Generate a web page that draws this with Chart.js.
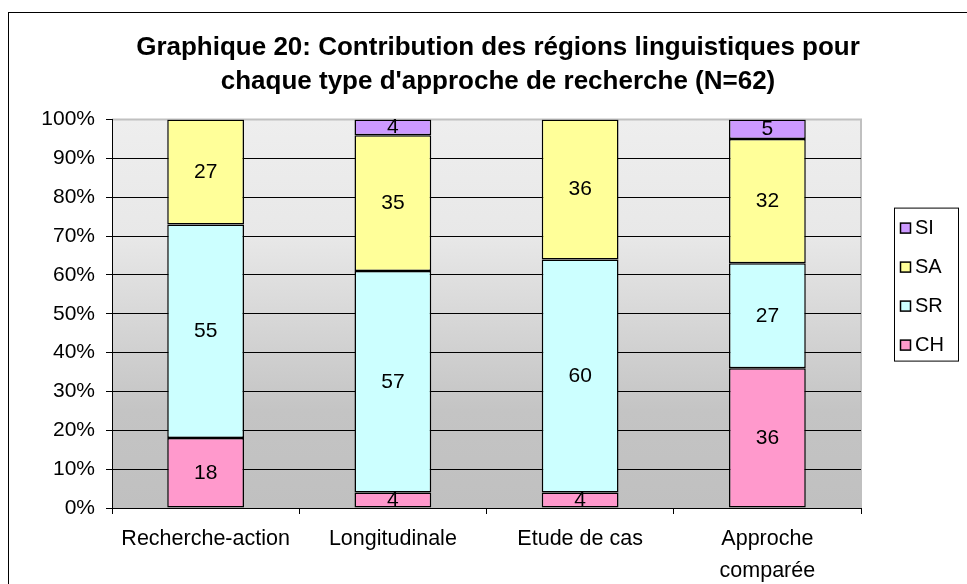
<!DOCTYPE html>
<html>
<head>
<meta charset="utf-8">
<script src="https://cdn.jsdelivr.net/npm/chart.js@4.4.1/dist/chart.umd.min.js"></script>
<style>
  body { margin: 0; background: #fff; }
  #wrap { width: 967px; height: 584px; }
</style>
</head>
<body>
<div id="wrap"><canvas id="chart20" width="967" height="584"></canvas></div>
<script>
const categories = ["Recherche-action", "Longitudinale", "Etude de cas", ["Approche", "comparée"]];
const seriesNames = ["CH", "SR", "SA", "SI"];
const CH = [18, 4, 4, 36];
const SR = [55, 57, 60, 27];
const SA = [27, 35, 36, 32];
const SI = [0, 4, 0, 5];
const seriesColors = ["#ff99cc", "#ccffff", "#ffff99", "#cc99ff"];
const yTicks = [0, 10, 20, 30, 40, 50, 60, 70, 80, 90, 100];

const FONT = "'Liberation Sans', Arial, sans-serif";

// cadre + fond dégradé de la zone de traçage
const backgroundPlugin = {
  id: "plotBackground",
  beforeDraw(chart) {
    const ctx = chart.ctx;
    const a = chart.chartArea;
    ctx.save();
    ctx.strokeStyle = "#000";
    ctx.lineWidth = 1;
    ctx.strokeRect(8.5, 12.5, 2000, 2000);
    const grad = ctx.createLinearGradient(0, a.top, 0, a.bottom);
    grad.addColorStop(0, "#eeeeee");
    grad.addColorStop(0.3, "#e8e8e8");
    grad.addColorStop(0.75, "#c4c4c4");
    grad.addColorStop(1, "#c0c0c0");
    ctx.fillStyle = grad;
    ctx.fillRect(a.left, a.top, a.right - a.left, a.bottom - a.top);
    ctx.strokeStyle = "#c0c0c0";
    ctx.lineWidth = 2;
    ctx.beginPath();
    ctx.moveTo(a.left, a.top);
    ctx.lineTo(a.right, a.top);
    ctx.lineTo(a.right, a.bottom);
    ctx.stroke();
    ctx.restore();
  }
};

// valeurs au centre de chaque segment
const valueLabelsPlugin = {
  id: "valueLabels",
  afterDatasetsDraw(chart) {
    const ctx = chart.ctx;
    ctx.save();
    ctx.font = "21px " + FONT;
    ctx.fillStyle = "#000";
    ctx.textAlign = "center";
    ctx.textBaseline = "middle";
    chart.data.datasets.forEach((ds, i) => {
      const meta = chart.getDatasetMeta(i);
      meta.data.forEach((bar, j) => {
        const v = ds.data[j];
        if (!v) return;
        ctx.fillText(String(v), bar.x, (bar.y + bar.base) / 2);
      });
    });
    ctx.restore();
  }
};

// légende encadrée à droite, ordre inversé comme dans Excel
const boxLegendPlugin = {
  id: "boxLegend",
  afterDraw(chart) {
    const ctx = chart.ctx;
    const a = chart.chartArea;
    const left = a.right + 33;
    const top = a.top + 88;
    ctx.save();
    ctx.strokeStyle = "#000";
    ctx.lineWidth = 1;
    ctx.strokeRect(left + 0.5, top + 0.5, 64, 153);
    ctx.font = "20px " + FONT;
    ctx.textBaseline = "middle";
    const items = chart.data.datasets.slice().reverse();
    items.forEach((ds, i) => {
      const y = top + 20 + i * 39;
      ctx.fillStyle = ds.backgroundColor;
      ctx.fillRect(left + 6.5, y - 4.5, 10, 10);
      ctx.lineWidth = 1.5;
      ctx.strokeRect(left + 6.5, y - 4.5, 10, 10);
      ctx.fillStyle = "#000";
      ctx.fillText(ds.label, left + 21, y + 1);
    });
    ctx.restore();
  }
};

const values = [CH, SR, SA, SI];
const datasets = seriesNames.map((name, i) => ({
  label: name,
  data: values[i],
  backgroundColor: seriesColors[i],
  borderColor: "#000",
  borderWidth: 1.5,
  borderSkipped: false,
  barPercentage: 0.41,
  categoryPercentage: 1
}));

const ctx = document.getElementById("chart20").getContext("2d");
const myChart = new Chart(ctx, {
  type: "bar",
  data: {
    labels: categories,
    datasets: datasets
  },
  options: {
    responsive: false,
    animation: false,
    layout: { padding: { left: 29, right: 0, top: 0, bottom: 0 } },
    plugins: {
      legend: { display: false },
      tooltip: { enabled: false },
      title: {
        display: true,
        text: ["Graphique 20: Contribution des régions linguistiques pour",
               "chaque type d'approche de recherche (N=62)"],
        color: "#000",
        font: { family: FONT, size: 26, weight: "bold", lineHeight: 1.3 },
        padding: { top: 31, bottom: 21 }
      }
    },
    scales: {
      x: {
        stacked: true,
        grid: {
          display: true,
          drawOnChartArea: false,
          offset: true,
          tickLength: 6,
          tickColor: "#000"
        },
        border: { display: true, color: "#000", width: 1 },
        ticks: {
          color: "#000",
          padding: 9,
          maxRotation: 0,
          autoSkip: false,
          font: { family: FONT, size: 21.5, lineHeight: 1.5 }
        },
        afterFit(scale) { scale.height = 76; }
      },
      y: {
        stacked: true,
        min: 0,
        max: 100,
        afterBuildTicks(scale) { scale.ticks = yTicks.map(v => ({ value: v })); },
        grid: {
          color: (c) => (c.tick && c.tick.value === 100 ? "rgba(0,0,0,0)" : "#000"),
          tickColor: "#000",
          tickLength: 6,
          lineWidth: 1
        },
        border: { display: true, color: "#000", width: 1 },
        ticks: {
          color: "#000",
          padding: 11,
          font: { family: FONT, size: 21 },
          callback: (v) => v + "%"
        },
        afterFit(scale) { scale.width = 83; }
      },
      yRight: {
        position: "right",
        display: true,
        grid: { display: false },
        border: { display: false },
        ticks: { display: false },
        afterFit(scale) { scale.width = 106; }
      }
    }
  },
  plugins: [backgroundPlugin, valueLabelsPlugin, boxLegendPlugin]
});
</script>
</body>
</html>
